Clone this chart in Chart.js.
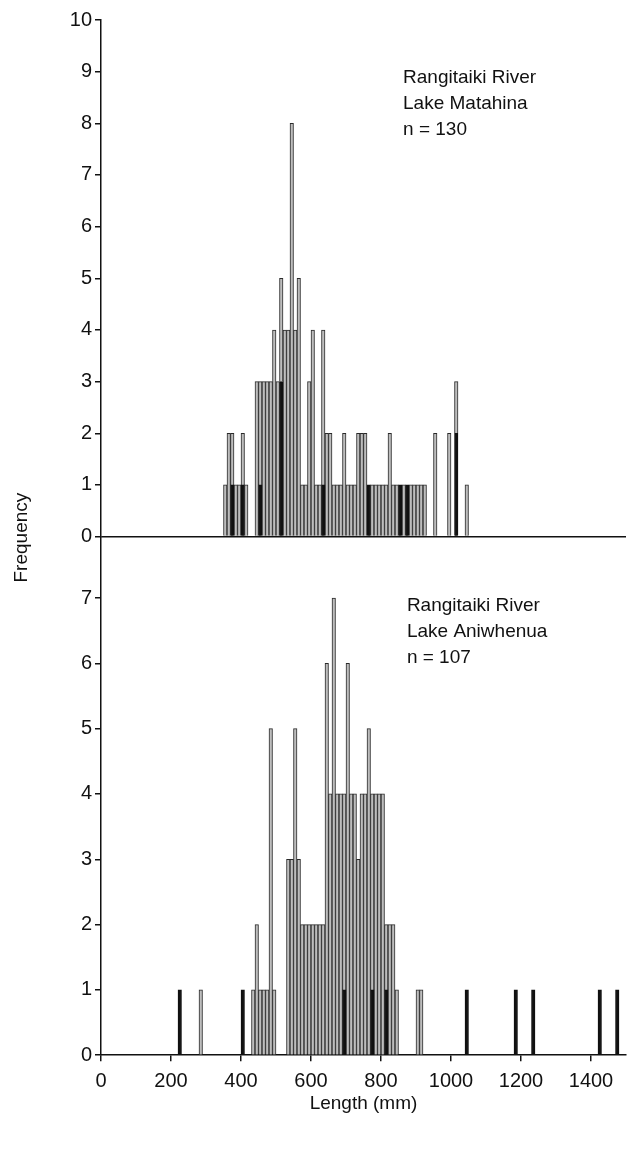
<!DOCTYPE html>
<html>
<head>
<meta charset="utf-8">
<script src="https://cdn.jsdelivr.net/npm/chart.js@4.4.1/dist/chart.umd.min.js"></script>
<style>
  html, body { margin: 0; padding: 0; background: #fff; }
</style>
</head>
<body>
<canvas id="chart" width="631" height="1150"></canvas>
<script>
// 10 mm length classes (lower edge, mm) and number of fish in each
const topBins  = [350, 360, 370, 380, 390, 400, 410, 440, 450, 460, 470, 480, 490, 500, 510, 520, 530, 540, 550, 560,
                  570, 580, 590, 600, 610, 620, 630, 640, 650, 660, 670, 680, 690, 700, 710, 720, 730, 740, 750, 760,
                  770, 780, 790, 800, 810, 820, 830, 840, 850, 860, 870, 880, 890, 900, 910, 920, 950, 990, 1010, 1040];
const topCount = [1, 2, 2, 1, 1, 2, 1, 3, 3, 3, 3, 3, 4, 3, 5, 4, 4, 8, 4, 5,
                  1, 1, 3, 4, 1, 1, 4, 2, 2, 1, 1, 1, 2, 1, 1, 1, 2, 2, 2, 1,
                  1, 1, 1, 1, 1, 2, 1, 1, 1, 1, 1, 1, 1, 1, 1, 1, 2, 2, 3, 1];
const topBlack = [0, 0, 1, 0, 0, 1, 0, 0, 1, 0, 0, 0, 0, 0, 3, 0, 0, 0, 0, 0,
                  0, 0, 0, 0, 0, 0, 1, 0, 0, 0, 0, 0, 0, 0, 0, 0, 0, 0, 0, 1,
                  0, 0, 0, 0, 0, 0, 0, 0, 1, 0, 1, 0, 0, 0, 0, 0, 0, 0, 2, 0];

const botBins  = [220, 280, 400, 430, 440, 450, 460, 470, 480, 490, 530, 540, 550, 560, 570, 580, 590, 600, 610, 620,
                  630, 640, 650, 660, 670, 680, 690, 700, 710, 720, 730, 740, 750, 760, 770, 780, 790, 800, 810, 820,
                  830, 840, 900, 910, 1040, 1180, 1230, 1420, 1470];
const botCount = [1, 1, 1, 1, 2, 1, 1, 1, 5, 1, 3, 3, 5, 3, 2, 2, 2, 2, 2, 2,
                  2, 6, 4, 7, 4, 4, 4, 6, 4, 4, 3, 4, 4, 5, 4, 4, 4, 4, 2, 2,
                  2, 1, 1, 1, 1, 1, 1, 1, 1];
const botBlack = [1, 0, 1, 0, 0, 0, 0, 0, 0, 0, 0, 0, 0, 0, 0, 0, 0, 0, 0, 0,
                  0, 0, 0, 0, 0, 0, 1, 0, 0, 0, 0, 0, 0, 0, 1, 0, 0, 0, 1, 0,
                  0, 0, 0, 0, 1, 1, 1, 1, 1];

const binWidth = 10;
const xTicks = [0, 200, 400, 600, 800, 1000, 1200, 1400];
const topTicks = [0, 1, 2, 3, 4, 5, 6, 7, 8, 9, 10];
const botTicks = [0, 1, 2, 3, 4, 5, 6, 7];

const topNote = ['Rangitaiki River', 'Lake Matahina', 'n = 130'];
const botNote = ['Rangitaiki River', 'Lake Aniwhenua', 'n = 107'];
const topNoteAt = [863, 8.88];
const botNoteAt = [874, 6.88];

const FONT = "'Liberation Sans', Arial, Helvetica, sans-serif";
const INK = '#111';

const pts = (bins, vals) => bins.map((b, i) => ({ x: b + binWidth / 2, y: vals[i] > 0 ? vals[i] : null }));
const openOf = (count, black) => count.map((c, i) => c - black[i]);

const blackStyle = { backgroundColor: '#111', borderColor: '#111', borderWidth: 1 };
const openStyle = { backgroundColor: '#bdbdbd', borderColor: '#2a2a2a', borderWidth: 1 };

const yAxis = (ticks, max, weight) => ({
    type: 'linear',
    position: 'left',
    stack: 'panels',
    stackWeight: weight,
    stacked: true,
    min: 0,
    max,
    afterBuildTicks: s => { s.ticks = ticks.map(v => ({ value: v })); },
    afterFit: s => { s.width = 101; },
    ticks: { color: INK, font: { family: FONT, size: 20 }, padding: 3, callback: v => String(v) },
    grid: { drawOnChartArea: false, tickLength: 6, tickColor: INK, lineWidth: 1.5 },
    border: { color: INK, width: 1.5 }
});

const notes = {
    id: 'notes',
    afterDraw(chart) {
        const { ctx, scales, chartArea } = chart;
        ctx.save();
        ctx.fillStyle = INK;
        ctx.font = '19px ' + FONT;
        ctx.textBaseline = 'middle';
        ctx.textAlign = 'left';
        const put = (lines, at, yScale) => {
            const x = scales.x.getPixelForValue(at[0]);
            const y = yScale.getPixelForValue(at[1]);
            lines.forEach((t, i) => ctx.fillText(t, x, y + i * 26));
        };
        put(topNote, topNoteAt, scales.yT);
        put(botNote, botNoteAt, scales.yB);
        ctx.translate(22, (chartArea.top + chartArea.bottom) / 2);
        ctx.rotate(-Math.PI / 2);
        ctx.textAlign = 'center';
        ctx.fillText('Frequency', 0, 0);
        ctx.restore();
    }
};

const bottomAxis = yAxis(botTicks, 7.94, 519);
const topAxis = yAxis(topTicks, 10, 517);
topAxis.grid = {
    drawOnChartArea: true,
    tickLength: 6,
    tickColor: INK,
    lineWidth: 1.5,
    color: c => c.tick && c.tick.value === 0 ? INK : 'rgba(0,0,0,0)'
};

new Chart(document.getElementById('chart'), {
    type: 'bar',
    data: {
        datasets: [
            { label: 'Matahina black', data: pts(topBins, topBlack), yAxisID: 'yT', ...blackStyle },
            { label: 'Matahina', data: pts(topBins, openOf(topCount, topBlack)), yAxisID: 'yT', ...openStyle },
            { label: 'Aniwhenua black', data: pts(botBins, botBlack), yAxisID: 'yB', ...blackStyle },
            { label: 'Aniwhenua', data: pts(botBins, openOf(botCount, botBlack)), yAxisID: 'yB', ...openStyle }
        ]
    },
    options: {
        responsive: false,
        animation: false,
        devicePixelRatio: 1,
        grouped: false,
        categoryPercentage: 1,
        barPercentage: 1,
        borderSkipped: 'start',
        layout: { padding: { top: 20, right: 5, bottom: 31, left: 0 } },
        plugins: { legend: { display: false }, tooltip: { enabled: false } },
        scales: {
            x: {
                type: 'linear',
                offset: false,
                min: 0,
                max: 1500,
                afterBuildTicks: s => { s.ticks = xTicks.map(v => ({ value: v })); },
                ticks: { color: INK, font: { family: FONT, size: 20 }, padding: 8, maxRotation: 0, callback: v => String(v) },
                grid: { offset: false, drawOnChartArea: false, tickLength: 6, tickColor: INK, lineWidth: 1.5 },
                border: { color: INK, width: 1.5 },
                title: { display: true, text: 'Length (mm)', color: INK, font: { family: FONT, size: 19 }, padding: { top: -9, bottom: 4 } }
            },
            yB: bottomAxis,
            yT: topAxis
        }
    },
    plugins: [notes]
});
</script>
</body>
</html>
